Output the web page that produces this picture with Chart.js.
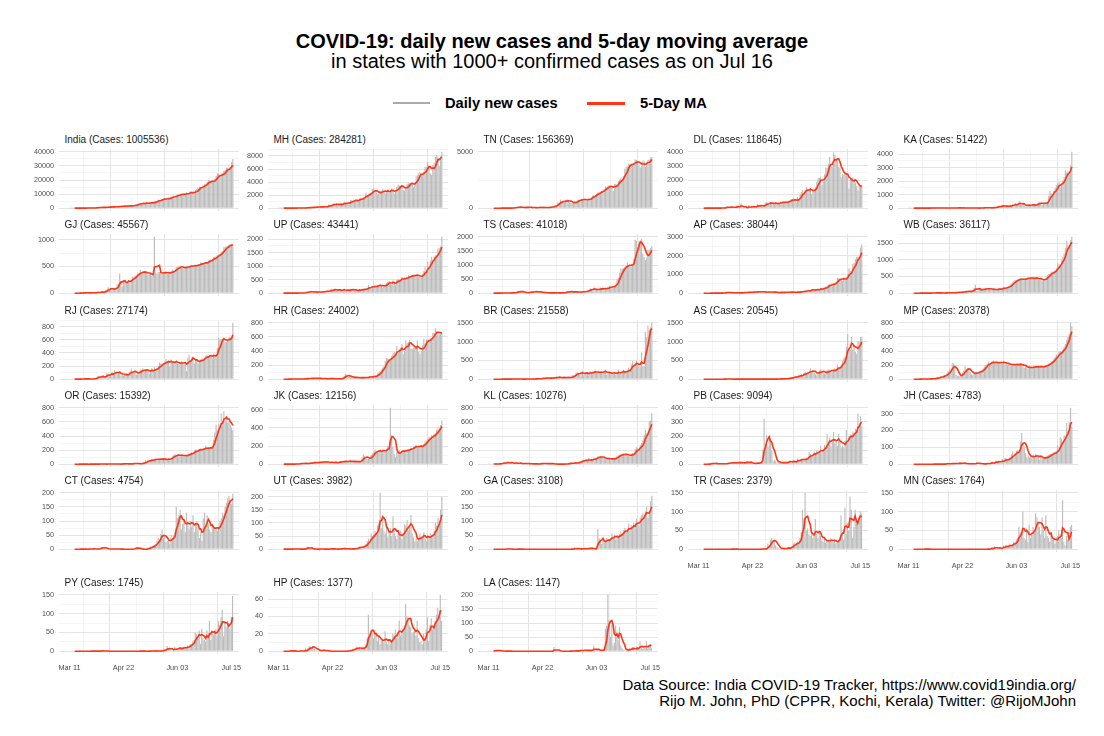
<!DOCTYPE html>
<html><head><meta charset="utf-8">
<script src="https://cdn.jsdelivr.net/npm/chart.js@4.4.1/dist/chart.umd.min.js"></script>
<style>
body{margin:0;background:#fff;width:1104px;height:736px;overflow:hidden;position:relative;font-family:"Liberation Sans",Arial,sans-serif;color:#000}
.abs{position:absolute;white-space:nowrap}
#title{left:0;width:1104px;top:29px;text-align:center;font-weight:bold;font-size:20px;line-height:24px}
#subtitle{left:0;width:1104px;top:49px;text-align:center;font-size:20px;line-height:24px}
.legtxt{top:94px;font-weight:bold;font-size:14.7px;line-height:18px}
.ptitle{font-size:10px;line-height:12px;color:#1a1a1a}
#caption{right:28px;top:677px;text-align:right;font-size:15px;line-height:15.5px}
</style></head><body>
<div id="title" class="abs">COVID-19: daily new cases and 5-day moving average</div>
<div id="subtitle" class="abs">in states with 1000+ confirmed cases as on Jul 16</div>
<div class="abs" style="left:393px;top:102.4px;width:37px;height:1.3px;background:#aaaaaa"></div>
<div class="abs legtxt" style="left:445px">Daily new cases</div>
<div class="abs" style="left:587px;top:101.5px;width:38px;height:3px;background:#ff3515"></div>
<div class="abs legtxt" style="left:640px">5-Day MA</div>
<div id="caption" class="abs">Data Source: India COVID-19 Tracker, https://www.covid19india.org/<br>Rijo M. John, PhD (CPPR, Kochi, Kerala) Twitter: @RijoMJohn</div>
<script>
// x axis: day index 0 = Mar 11 ... 127 = Jul 16
const xTickDays = [0, 42, 84, 126];
const xTickLabels = ['Mar 11', 'Apr 22', 'Jun 03', 'Jul 15'];
const xMinorDays = [21, 63, 105];

const stateNames = ['India','MH','TN','DL','KA','GJ','UP','TS','AP','WB','RJ','HR','BR','AS','MP','OR','JK','KL','PB','JH','CT','UT','GA','TR','MN','PY','HP','LA'];
const stateTotals = [1005536,284281,156369,118645,51422,45567,43441,41018,38044,36117,27174,24002,21558,20545,20378,15392,12156,10276,9094,4783,4754,3982,3108,2379,1764,1745,1377,1147];

const dIndia=[12,11,15,16,12,14,26,23,28,58,
78,69,94,74,86,73,153,136,120,187,
309,424,486,560,579,609,484,573,565,813,
871,854,758,1243,1031,886,1061,922,1371,1580,
1239,1537,1292,1667,1408,1835,1607,1568,1902,1705,
1801,2396,2564,2952,3656,2971,3602,3344,3339,3175,
4311,3592,3562,3726,3991,3808,4794,5050,4628,6154,
5720,6023,6536,6667,7111,6414,6535,7246,7254,8138,
8364,8789,7723,8812,9689,9849,9887,9971,9983,9979,
9985,11156,9996,10956,11929,11502,10667,10049,12881,13586,
14516,15413,14831,14933,15968,16922,17296,18552,19906,19459,
18522,18653,19148,20903,22771,24850,24248,22252,22752,24879,
26506,27114,28637,28701,26506,29429,32695,34956];
const dMH=[2,3,3,8,12,7,6,3,4,6,
12,10,15,23,16,24,17,26,36,17,
82,33,81,88,145,113,120,150,117,229,
210,187,134,352,121,232,286,118,328,552,
466,431,552,778,394,811,440,522,729,597,
583,1008,790,678,771,841,1233,1216,1089,1165,
1278,1230,1026,1495,1602,1576,1606,1606,2347,2005,
2127,2250,2345,2940,3041,2608,2436,2091,2190,2598,
2682,2940,2487,2358,2560,2933,2436,2739,3007,2553,
2259,2553,3254,3607,3493,3427,3390,2786,2701,3307,
3752,3827,3874,3870,3721,3214,3890,4841,5024,5318,
5493,5257,4878,5537,6328,6364,7074,6555,5368,5134,
6603,6875,7862,8139,7827,6497,7975,8641];
const dTN=[0,0,0,0,0,0,0,0,1,0,
3,2,3,3,6,11,9,3,10,17,
57,110,75,102,74,86,50,69,48,96,
77,58,106,98,31,38,25,56,49,105,
76,55,33,76,72,66,64,52,121,104,
161,203,231,266,527,508,771,580,600,526,
669,798,716,509,447,434,477,639,536,688,
743,776,786,759,765,805,646,817,827,874,
938,1149,1162,1091,1286,1384,1438,1458,1515,1562,
1685,1927,1875,1982,1989,1974,1843,1515,2174,2141,
2115,2396,2532,2710,2516,2865,3509,3645,3713,3940,
3949,3943,3882,3882,4329,4280,4150,3827,3616,3756,
4231,4163,3680,3965,4244,4328,4496,4549];
const dDL=[0,1,0,1,0,1,1,1,2,5,
7,2,1,1,5,6,9,4,23,25,
23,32,141,93,59,58,80,51,93,51,
183,166,19,356,51,17,62,17,67,186,
110,75,92,138,111,111,293,190,125,206,
76,223,384,427,349,206,428,448,338,224,
381,310,406,359,472,425,438,422,299,500,
534,571,660,591,508,635,412,792,576,1024,
1163,1295,990,1298,1513,1359,1330,1282,1007,1320,
1366,1501,1877,2137,2134,2224,1647,1859,2414,2877,
2877,3137,3630,3000,2909,3947,3788,3460,3390,2948,
2889,2199,2442,2373,2520,2505,2244,1379,2008,2033,
2187,2089,1781,1573,1246,1606,1647,1652];
const dKA=[1,2,2,2,0,1,3,1,3,1,
3,7,7,4,7,10,9,3,16,7,
13,14,14,20,4,12,12,10,18,17,
10,13,15,12,15,19,7,35,16,31,
25,15,6,18,16,10,15,13,20,11,
26,18,4,5,2,8,25,12,21,48,
53,10,23,35,28,23,54,69,84,127,
149,143,138,196,216,97,100,135,178,248,
141,299,187,388,267,257,515,378,239,308,
161,120,204,271,308,176,213,317,204,210,
337,416,453,390,249,322,397,445,442,918,
1267,1105,947,1272,1502,1694,1839,1925,1498,1843,
2062,2313,2798,2627,2738,2496,3176,4169];
const dGJ=[0,0,0,0,0,0,0,0,2,5,
7,15,3,10,5,3,12,5,11,6,
4,13,32,13,21,22,11,29,55,62,
116,70,102,64,78,56,105,163,176,367,
228,127,239,217,191,230,247,230,226,308,
313,326,333,374,376,441,380,388,390,394,
398,347,362,364,324,348,1057,391,366,395,
398,371,363,394,396,405,361,376,367,412,
438,423,415,485,492,510,498,480,477,470,
470,510,513,495,517,511,514,524,520,510,
540,539,580,563,549,572,577,580,615,624,
626,620,675,681,687,712,725,735,778,783,
861,875,872,879,902,915,925,919];
const dUP=[1,0,0,2,1,1,3,2,4,3,
4,2,4,3,6,4,7,5,10,7,
15,28,55,59,51,78,30,35,38,58,
41,58,13,45,75,78,72,39,102,63,
117,152,97,135,162,100,110,97,138,104,
112,173,55,108,128,104,159,145,117,117,
98,93,96,158,118,160,128,157,150,161,
308,218,222,227,254,287,231,303,309,318,
266,203,278,317,377,423,447,332,316,468,
398,300,486,531,508,495,596,488,589,542,
583,661,626,612,681,683,644,672,675,606,
606,583,721,817,972,757,1155,929,1196,1346,
1248,1347,1403,1388,1654,1659,1733,2083];
const dTS=[0,0,0,1,1,1,1,1,3,4,
6,6,3,6,4,9,14,12,11,3,
26,33,48,75,60,62,30,50,17,18,
16,28,32,61,52,50,52,66,43,49,
14,56,15,27,13,7,11,13,6,11,
22,6,17,21,3,11,11,10,15,31,
33,79,51,41,55,47,40,55,41,42,
27,38,62,52,66,41,71,107,117,169,
158,94,199,99,129,127,143,206,154,178,
92,191,179,209,253,237,219,213,269,352,
499,546,730,872,879,891,920,985,1087,983,
975,945,1018,1213,1892,1850,1590,1831,1879,1924,
1410,1278,1178,1269,1550,1524,1597,1676];
const dAP=[0,1,0,0,0,0,0,0,0,1,
1,2,1,3,2,3,2,3,4,4,
21,43,67,32,10,26,16,37,18,14,
15,17,15,34,10,48,52,38,44,44,
75,35,56,80,61,81,60,82,80,73,
71,60,58,67,67,60,67,56,54,43,
50,38,33,36,48,57,57,25,52,68,
57,62,45,47,62,44,68,54,48,70,
98,105,115,82,98,180,161,130,199,216,
147,182,186,207,208,294,193,222,299,351,
376,465,477,439,462,497,553,605,813,796,
793,706,657,845,765,837,998,1322,1178,1062,
1555,1608,1813,1933,1935,1916,2432,2593];
const dWB=[0,0,0,0,0,0,1,0,0,1,
2,3,2,2,1,4,5,1,3,5,
11,10,14,10,2,5,11,6,11,12,
11,14,11,15,12,15,19,29,32,35,
17,29,39,51,58,57,58,43,50,61,
86,152,245,69,72,144,101,111,128,106,
160,124,136,141,101,118,106,131,106,101,
148,130,121,148,170,173,168,177,211,255,
287,325,372,396,390,408,426,449,407,395,
421,431,466,476,440,447,457,454,423,472,
475,413,427,402,370,412,428,475,542,572,
572,652,629,649,669,743,895,861,870,986,
1088,1198,1344,1560,1435,1390,1589,1690];
const dRJ=[0,1,1,1,2,0,0,0,1,3,
6,7,4,4,6,3,2,3,5,8,
10,29,48,46,32,22,60,25,36,97,
81,62,52,112,83,136,114,73,82,126,
60,71,52,70,91,69,63,121,164,117,
98,110,68,110,100,148,139,165,112,129,
151,145,92,114,166,133,182,114,160,204,
253,236,212,239,252,306,274,280,192,298,
264,270,261,263,236,233,230,273,262,247,
250,123,327,373,287,325,315,247,302,281,
235,282,298,315,305,327,357,370,337,369,
365,317,390,350,351,480,632,608,605,616,
624,562,571,611,640,644,633,858];
const dHR=[0,0,0,0,0,0,0,0,1,2,
3,3,2,1,2,3,1,5,1,3,
5,7,9,17,10,3,20,8,15,16,
7,11,9,14,8,6,8,5,4,13,
10,6,8,5,4,7,6,4,5,9,
23,44,76,66,35,32,22,40,25,26,
17,22,27,23,18,20,26,23,31,22,
26,49,31,42,33,45,38,81,98,111,
134,167,188,260,297,291,287,259,328,369,
385,351,470,379,424,440,498,355,404,553,
509,528,557,433,436,444,439,465,548,386,
353,397,485,573,499,568,540,561,578,585,
654,658,723,674,629,633,656,656];
const dBR=[0,0,0,0,0,0,0,0,0,0,
0,2,0,1,1,2,2,2,3,6,
6,5,6,3,1,3,2,4,1,0,
21,2,1,0,1,6,13,15,6,10,
17,13,38,28,31,28,23,38,26,32,
41,35,48,68,17,80,26,35,52,45,
59,41,38,42,38,102,103,101,173,178,
162,145,153,215,105,159,181,172,100,211,
176,203,200,211,166,169,175,208,201,176,
222,240,127,165,164,158,171,163,194,112,
167,247,154,173,200,255,165,202,198,303,
273,398,478,347,389,485,386,372,325,710,
349,352,1266,1116,1432,1320,1385,1502];
const dAS=[0,0,0,0,0,0,0,0,0,0,
0,0,0,0,0,0,0,0,0,0,
1,4,11,10,0,0,0,1,0,1,
0,1,1,2,0,1,0,0,0,0,
1,0,0,0,0,1,0,0,0,0,
5,1,1,0,0,2,1,0,1,0,
0,2,22,10,5,3,10,18,15,13,
14,48,39,55,37,78,85,47,117,90,
131,72,172,200,154,197,147,293,223,212,
182,134,103,185,237,256,191,178,149,137,
252,250,239,214,187,261,293,212,388,318,
288,394,494,563,604,860,1202,808,781,1123,
788,905,729,675,1001,1002,1121,1127];
const dMP=[0,0,0,0,0,0,0,0,0,4,
2,3,1,2,6,4,5,3,6,8,
10,12,20,23,30,40,35,50,60,55,
90,110,130,150,230,220,170,60,40,50,
50,60,90,120,180,140,160,130,100,70,
60,80,100,110,90,100,120,130,150,180,
200,220,250,210,230,250,260,230,220,240,
230,250,240,220,260,210,230,200,220,210,
190,220,200,210,220,200,190,230,210,200,
160,180,170,150,180,170,160,180,170,190,
170,180,160,190,180,170,190,200,210,220,
230,250,260,290,320,350,340,390,400,380,
420,460,500,560,600,650,800,750];
const dOR=[0,0,0,0,0,0,0,0,1,0,
1,0,0,0,0,0,1,0,0,1,
1,0,1,1,15,0,1,0,2,2,
6,6,2,1,0,5,2,0,4,0,
1,10,4,7,4,1,3,9,7,5,
14,9,14,5,7,5,2,27,14,55,
36,54,60,48,70,66,64,80,56,81,
73,79,57,83,67,71,60,75,76,90,
110,130,140,120,135,125,118,140,110,125,
120,118,135,150,160,170,140,190,210,200,
190,210,220,200,230,220,260,210,220,240,
230,260,350,450,560,480,570,540,720,600,
750,620,650,590,600,560,520,490];
const dJK=[0,0,0,0,0,1,0,0,0,0,
1,1,0,1,3,5,4,8,10,10,
7,8,10,5,15,13,16,12,27,16,
23,17,18,29,22,35,18,21,25,17,
15,28,22,13,20,15,24,17,36,32,
25,31,35,31,27,35,40,25,26,32,
30,29,30,21,35,80,108,90,60,55,
60,70,100,120,130,162,140,138,150,152,
135,162,150,140,170,200,180,620,320,190,
110,80,130,140,150,130,145,155,140,160,
150,165,160,180,175,190,200,210,180,195,
200,210,190,220,250,260,280,300,290,320,
310,330,340,380,390,400,430,480];
const dKL=[3,2,5,3,3,2,3,3,2,12,
12,15,28,14,19,39,6,20,32,1,
7,24,21,9,8,13,9,9,12,7,
7,10,2,3,8,1,7,1,4,2,
6,19,11,10,3,7,11,13,4,10,
2,0,2,0,3,0,1,0,0,2,
7,7,5,10,26,16,11,14,29,12,
24,42,42,62,53,49,67,40,84,62,
58,57,86,82,94,111,108,107,91,91,
91,65,83,78,85,54,82,79,75,97,
118,127,133,138,141,152,123,150,118,121,
121,131,160,151,211,240,225,193,272,301,
339,416,488,435,449,608,623,722];
const dPB=[0,0,0,0,0,0,0,0,1,1,
11,8,4,0,4,4,5,2,0,3,
3,5,5,10,11,11,8,11,9,12,
10,12,11,10,11,6,8,21,22,6,
8,14,3,3,5,5,15,8,7,22,
105,322,144,207,122,180,170,93,20,30,
24,8,13,10,16,5,14,12,10,15,
20,29,11,15,25,12,20,40,30,26,
38,32,40,30,40,48,85,73,55,60,
90,80,100,72,92,130,80,101,136,124,
214,152,189,127,170,227,149,170,131,215,
160,120,130,120,170,240,150,200,210,195,
230,220,250,240,360,270,340,270];
const dJH=[0,0,0,0,0,0,0,0,0,0,
0,0,0,0,0,0,0,0,0,0,
1,0,0,1,0,0,0,1,1,0,
9,3,1,2,3,8,4,4,2,2,
13,4,8,2,3,3,3,5,1,1,
3,5,4,12,2,5,1,1,2,1,
3,6,7,4,5,15,2,12,22,11,
21,8,17,29,11,38,33,22,27,40,
60,75,43,64,79,84,80,134,185,130,
105,66,40,50,40,55,46,44,38,60,
56,44,28,50,38,35,30,40,50,55,
60,58,62,70,75,66,110,80,160,150,
130,170,150,245,200,250,334,220];
const dCT=[0,0,0,0,0,0,0,0,0,1,
0,0,0,0,0,1,2,1,0,1,
0,0,1,2,5,8,6,4,2,1,
0,1,0,2,0,1,0,0,1,0,
0,0,0,0,0,0,0,0,0,0,
2,5,8,3,1,0,0,0,0,0,
1,4,6,10,8,12,15,18,30,40,
35,55,70,40,42,25,30,35,20,50,
40,50,60,150,110,120,140,70,90,100,
60,130,90,70,100,80,120,60,90,100,
70,40,60,30,110,130,80,120,90,70,
60,90,80,70,75,65,80,100,110,130,
120,150,165,180,190,170,160,197];
const dUT=[0,0,0,0,1,0,0,0,1,0,
1,0,1,1,0,1,0,0,0,0,
2,0,10,8,2,3,1,0,0,0,
0,2,0,1,0,0,0,2,0,0,
2,2,1,0,1,0,0,1,1,3,
2,3,1,0,1,3,0,0,1,2,
5,4,7,11,8,7,9,15,20,30,
40,30,60,50,55,70,60,90,100,215,
80,130,70,60,90,45,60,80,50,125,
75,50,40,60,55,70,40,50,95,90,
110,70,85,130,60,45,30,40,30,45,
60,40,50,65,40,30,55,45,60,55,
45,70,100,90,120,95,150,200];
const dGA=[0,0,0,0,0,0,0,0,0,0,
0,0,0,0,2,1,0,0,0,0,
0,0,0,1,0,0,0,0,0,0,
0,0,0,0,0,0,0,0,0,0,
0,0,0,0,0,0,0,0,0,0,
0,0,0,0,0,0,0,0,0,0,
0,0,0,0,0,1,0,7,0,1,
1,2,1,1,2,3,1,2,5,4,
2,1,1,2,4,72,39,30,18,33,
29,28,40,31,33,39,56,40,52,35,
44,45,54,64,49,68,75,66,65,90,
64,86,80,95,83,108,93,85,112,120,
126,118,135,150,112,128,170,190];
const dTR=[0,0,0,0,0,0,0,0,0,0,
0,0,0,0,0,0,0,0,0,0,
0,0,0,0,0,0,1,0,0,0,
0,0,0,0,0,0,0,0,0,0,
0,0,0,0,0,0,0,0,0,1,
1,0,2,0,15,12,25,30,22,26,
10,5,3,0,2,1,3,2,2,3,
4,3,5,10,15,18,12,20,15,30,
45,105,80,150,50,55,40,35,45,30,
40,80,40,30,45,35,25,20,30,18,
20,25,22,30,20,18,28,15,20,25,
30,90,45,25,110,40,70,50,140,105,
30,60,105,80,70,85,100,95];
const dMN=[0,0,0,0,0,0,0,0,0,0,
0,0,0,1,0,0,0,0,0,0,
0,0,0,0,0,0,0,0,0,0,
0,0,0,0,0,0,0,0,0,0,
0,0,0,0,0,0,0,0,0,0,
0,0,0,0,0,0,0,0,0,0,
0,0,1,0,2,5,0,8,4,2,
1,3,5,2,10,6,12,4,8,15,
10,12,20,15,25,30,60,45,40,100,
30,25,55,20,65,30,40,60,45,95,
85,70,60,40,85,50,30,90,35,30,
20,40,25,30,15,20,35,50,40,30,
130,20,10,35,25,45,60,65];
const dPY=[0,0,0,0,0,0,0,0,0,0,
0,0,0,0,0,0,0,1,0,0,
0,0,1,0,0,1,2,0,0,0,
0,0,0,0,0,0,0,0,0,0,
0,0,0,0,0,0,0,0,0,0,
0,0,0,0,0,1,0,0,0,0,
0,0,1,0,1,0,2,0,1,0,
0,1,2,3,5,2,14,8,5,4,
1,3,12,6,8,4,11,9,6,12,
8,10,15,12,20,18,25,30,50,45,
40,55,20,60,35,30,25,55,40,80,
30,55,45,50,60,40,80,70,90,110,
40,75,65,80,75,60,90,147];
const dHP=[0,0,0,0,0,0,0,0,0,1,
1,0,0,0,0,0,0,1,0,0,
0,3,0,4,6,5,4,6,3,1,
1,0,2,0,1,2,0,1,0,0,
0,0,0,0,0,0,0,0,0,0,
0,0,0,0,1,0,2,1,3,2,
4,5,3,4,2,3,5,4,8,15,
42,18,25,20,15,22,20,12,18,8,
14,12,10,23,10,8,14,9,12,20,
18,25,15,22,35,18,20,26,30,54,
40,35,30,28,20,22,25,18,35,15,
10,12,8,20,15,25,39,12,30,38,
25,30,35,42,50,39,65,35];
const dLA=[2,1,0,2,1,3,5,1,2,0,
0,0,0,0,1,0,0,0,0,0,
0,0,0,0,0,0,0,0,0,0,
0,0,0,0,0,0,0,0,0,0,
0,0,0,0,0,0,0,0,0,0,
0,15,5,2,0,0,0,0,0,0,
0,0,0,0,1,0,2,0,3,1,
0,2,5,3,2,4,2,3,3,2,
5,3,20,2,3,4,3,5,2,4,
6,80,90,200,110,50,95,20,30,90,
70,40,85,20,10,5,3,2,5,8,
10,6,15,10,5,8,15,10,35,12,
8,15,12,35,10,20,25,10];

const stateSeries = [dIndia,dMH,dTN,dDL,dKA,dGJ,dUP,dTS,dAP,dWB,dRJ,dHR,dBR,dAS,dMP,dOR,dJK,dKL,dPB,dJH,dCT,dUT,dGA,dTR,dMN,dPY,dHP,dLA];

const stateTicks = [
 [0,10000,20000,30000,40000],[0,2000,4000,6000,8000],[0,5000],[0,1000,2000,3000,4000],[0,1000,2000,3000,4000],
 [0,500,1000],[0,500,1000,1500,2000],[0,500,1000,1500,2000],[0,1000,2000,3000],[0,500,1000,1500],
 [0,200,400,600,800],[0,200,400,600,800],[0,500,1000,1500],[0,500,1000,1500],[0,200,400,600,800],
 [0,200,400,600,800],[0,200,400,600],[0,200,400,600,800],[0,100,200,300,400],[0,100,200,300],
 [0,50,100,150,200],[0,50,100,150,200],[0,50,100,150,200],[0,50,100,150],[0,50,100,150],
 [0,50,100,150],[0,20,40,60],[0,50,100,150,200]
];

// ---- layout ----
const FONT = '"Liberation Sans", Arial, sans-serif';
const PW = 180, PH = 62, YW = 42, PADT = 11, PADB = 11, PADR = 12;
const rowTop = [149, 234, 320, 405, 490, 592];
const colLeft = c => Math.round(58.5 + 209.75 * c);
const X_MIN = -8.2, X_MAX = 131.8;
const BAR = '#bdbdbd', LINE = '#ff3515';
const GRID_MAJ = '#e4e4e4', GRID_MIN = '#f0f0f0';

function tickVal(ctx) { return (ctx && ctx.tick) ? ctx.tick.value : NaN; }

stateNames.forEach((name, i) => {
  const r = Math.floor(i / 5), c = i % 5;
  const bottom = (r === 5) || (r === 4 && c >= 3);
  const XH = bottom ? 20 : 0;
  const padB = bottom ? 0 : PADB;
  const L = colLeft(c), T = rowTop[r];

  const t = document.createElement('div');
  t.className = 'abs ptitle';
  t.style.left = (L + 5.5) + 'px';
  t.style.top = (T - 15) + 'px';
  t.textContent = name + ' (Cases: ' + stateTotals[i] + ')';
  document.body.appendChild(t);

  const w = document.createElement('div');
  w.className = 'abs';
  w.style.left = (L - YW) + 'px';
  w.style.top = (T - PADT) + 'px';
  w.style.width = (YW + PW + PADR) + 'px';
  w.style.height = (PADT + PH + XH + padB) + 'px';
  const cv = document.createElement('canvas');
  w.appendChild(cv);
  document.body.appendChild(w);

  const vals = stateSeries[i];
  const majors = stateTicks[i];
  const step = majors[1] - majors[0];
  const ref = Math.max(Math.max(...vals), majors[majors.length - 1]);
  const yMax = ref * 1.05, yMin = -ref * 0.05;
  const yAll = [];
  for (let v = 0; v <= yMax; v += step / 2) yAll.push(v);
  const majorSet = new Set(majors);

  const bars = vals.map((y, k) => ({ x: k, y }));
  const ma = [];
  for (let k = 4; k < vals.length; k++) {
    ma.push({ x: k, y: (vals[k-4] + vals[k-3] + vals[k-2] + vals[k-1] + vals[k]) / 5 });
  }
  const xAll = [...xTickDays, ...xMinorDays].sort((a, b) => a - b);

  try {
  new Chart(cv, {
    type: 'bar',
    data: {
      datasets: [
        { type: 'line', data: ma, borderColor: LINE, borderWidth: 1.6, pointRadius: 0, tension: 0, order: 0 },
        { type: 'bar', data: bars, backgroundColor: BAR, barPercentage: 0.9, categoryPercentage: 1, order: 1 }
      ]
    },
    options: {
      animation: false,
      responsive: true,
      maintainAspectRatio: false,
      events: [],
      layout: { padding: { top: PADT, right: PADR, left: 0, bottom: padB } },
      plugins: { legend: { display: false }, tooltip: { enabled: false }, title: { display: false } },
      scales: {
        x: {
          type: 'linear', min: X_MIN, max: X_MAX, offset: false,
          afterBuildTicks: s => { s.ticks = xAll.map(v => ({ value: v })); },
          afterFit: s => { s.height = XH; },
          border: { display: false },
          grid: {
            drawTicks: false,
            color: ctx => xTickDays.includes(tickVal(ctx)) ? GRID_MAJ : GRID_MIN,
            lineWidth: ctx => xTickDays.includes(tickVal(ctx)) ? 1 : 0.7
          },
          ticks: {
            display: bottom, autoSkip: false, maxRotation: 0, padding: 9.5,
            color: '#4d4d4d', font: { family: FONT, size: 7.3 },
            callback: v => { const j = xTickDays.indexOf(v); return j >= 0 ? xTickLabels[j] : ''; }
          }
        },
        y: {
          min: yMin, max: yMax,
          afterBuildTicks: s => { s.ticks = yAll.map(v => ({ value: v })); },
          afterFit: s => { s.width = YW; },
          border: { display: false },
          grid: {
            drawTicks: false,
            color: ctx => majorSet.has(tickVal(ctx)) ? GRID_MAJ : GRID_MIN,
            lineWidth: ctx => majorSet.has(tickVal(ctx)) ? 1 : 0.7
          },
          ticks: {
            padding: 5, autoSkip: false,
            color: '#4d4d4d', font: { family: FONT, size: 7.2 },
            callback: v => majorSet.has(v) ? String(v) : ''
          }
        }
      }
    }
  });
  } catch (e) { console.error(name, e); }
});
</script>
</body></html>
